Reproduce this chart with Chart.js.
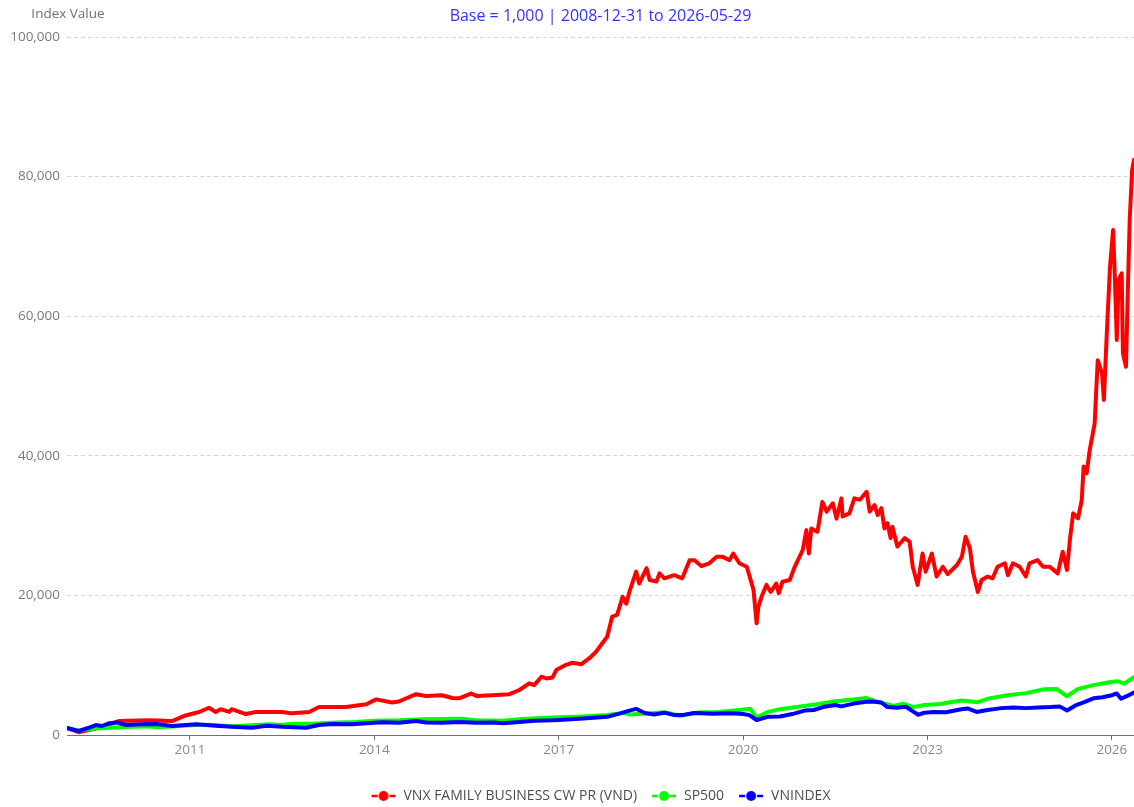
<!DOCTYPE html>
<html>
<head>
<meta charset="utf-8">
<script src="https://cdn.jsdelivr.net/npm/chart.js@4.4.1/dist/chart.umd.min.js"></script>
<style>
  html, body { margin: 0; padding: 0; background: #fff; }
</style>
</head>
<body>
<canvas id="chart" width="1134" height="807"></canvas>
<script>
const titleText = "Base = 1,000 | 2008-12-31 to 2026-05-29";
const yAxisName = "Index Value";
const xTickYears = [2011, 2014, 2017, 2020, 2023, 2026];

// VNX FAMILY BUSINESS CW PR (VND) - dates as decimal years
const vnxDates = [
  2009.00, 2009.19, 2009.44, 2009.68, 2009.84,
  2010.33, 2010.71, 2010.93,
  2011.15, 2011.31, 2011.42, 2011.50, 2011.64, 2011.68, 2011.91,
  2012.07, 2012.50, 2012.66, 2012.94,
  2013.10, 2013.54, 2013.87,
  2014.03, 2014.29, 2014.40, 2014.68, 2014.84,
  2015.10, 2015.27, 2015.38, 2015.58, 2015.66, 2015.92,
  2016.20, 2016.36, 2016.52, 2016.60, 2016.72, 2016.80, 2016.90, 2016.96,
  2017.12, 2017.22, 2017.37, 2017.50, 2017.61, 2017.71, 2017.79, 2017.87, 2017.95,
  2018.04, 2018.10, 2018.15, 2018.26, 2018.31, 2018.43, 2018.48, 2018.59, 2018.64, 2018.72, 2018.88,
  2019.01, 2019.13, 2019.21, 2019.32, 2019.45, 2019.57, 2019.66, 2019.78, 2019.84, 2019.94,
  2020.06, 2020.10, 2020.17, 2020.22, 2020.25, 2020.30, 2020.38, 2020.45, 2020.54, 2020.58, 2020.64, 2020.76, 2020.84, 2020.92, 2020.97,
  2021.03, 2021.07, 2021.11, 2021.21, 2021.29, 2021.36, 2021.46, 2021.52, 2021.60, 2021.62, 2021.73, 2021.81, 2021.90,
  2022.01, 2022.06, 2022.14, 2022.19, 2022.25, 2022.30, 2022.35, 2022.40, 2022.43, 2022.51, 2022.63, 2022.71, 2022.76, 2022.84, 2022.92, 2022.97,
  2023.07, 2023.15, 2023.25, 2023.33, 2023.48, 2023.56, 2023.62, 2023.69, 2023.74, 2023.82, 2023.88, 2023.98,
  2024.06, 2024.14, 2024.26, 2024.31, 2024.39, 2024.50, 2024.60, 2024.66, 2024.79, 2024.88, 2024.99,
  2025.12, 2025.20, 2025.27, 2025.32, 2025.37, 2025.45, 2025.51, 2025.54, 2025.59, 2025.64, 2025.69, 2025.72, 2025.77, 2025.84, 2025.87, 2025.92, 2025.97,
  2026.02, 2026.05, 2026.08, 2026.11, 2026.16, 2026.18, 2026.23, 2026.26, 2026.29, 2026.33, 2026.36
];
const vnxValues = [
  1000, 400, 900, 1500, 2000,
  2100, 2000, 2800,
  3300, 3900, 3300, 3700, 3300, 3700, 3000,
  3300, 3300, 3100, 3300,
  4000, 4000, 4400,
  5100, 4650, 4800, 5850, 5600,
  5700, 5300, 5250, 5950, 5600, 5700,
  5850, 6450, 7400, 7150, 8350, 8100, 8250, 9300,
  10050, 10350, 10150, 11000, 11950, 13150, 14100, 16950, 17200,
  19800, 18800, 20500, 23400, 21700, 23900, 22200, 22000, 23150, 22450, 22900,
  22450, 25050, 25050, 24200, 24600, 25550, 25550, 25050, 26000, 24600,
  24100, 22900, 20750, 16000, 18400, 19800, 21500, 20500, 21700, 20300, 21950, 22200, 24100, 25550, 26500,
  29350, 26000, 29600, 29100, 33400, 32000, 33200, 31000, 33900, 31300, 31750, 33900, 33700,
  34850, 32000, 32950, 31500, 32500, 29600, 30350, 28200, 29850, 27000, 28200, 27700, 24100, 21500, 26000, 23400,
  26000, 22700, 24100, 23050, 24350, 25550, 28400, 26750, 23400, 20500, 22200, 22700,
  22450, 24100, 24600, 22900, 24600, 24100, 22700, 24600, 25050, 24100, 24100,
  23150, 26250, 23650, 28200, 31750, 31050, 33650, 38450, 37500, 40850, 43200, 44650, 53700, 51800, 48000, 58000, 67100,
  72350, 65200, 56600, 65200, 66150, 54700, 52750, 63750, 73800, 80950, 82400
];

// SP500
const spDates = [
  2009.00, 2009.19, 2009.36, 2009.68, 2009.96,
  2010.33, 2010.45, 2010.71,
  2011.00, 2011.30, 2011.68,
  2012.00, 2012.30, 2012.45, 2012.70,
  2013.00, 2013.40, 2013.70,
  2014.00, 2014.40, 2014.80,
  2015.40, 2015.66,
  2016.10, 2016.40, 2016.90,
  2017.30, 2017.79,
  2018.05, 2018.15, 2018.50, 2018.72, 2018.97,
  2019.30, 2019.60, 2019.90,
  2020.12, 2020.22, 2020.40, 2020.60, 2020.90,
  2021.20, 2021.50, 2021.80,
  2022.00, 2022.15, 2022.45, 2022.60, 2022.78, 2022.95,
  2023.20, 2023.55, 2023.82,
  2024.00, 2024.30, 2024.60, 2024.90,
  2025.10, 2025.27, 2025.45, 2025.70, 2025.95,
  2026.10, 2026.20, 2026.36
];
const spValues = [
  1000, 620, 850, 1050, 1150,
  1250, 1100, 1200,
  1380, 1480, 1250,
  1400, 1550, 1450, 1600,
  1600, 1800, 1850,
  2050, 2100, 2250,
  2330, 2100,
  2050, 2300, 2500,
  2620, 2850,
  3150, 2950, 3100, 3250, 2750,
  3250, 3300, 3550,
  3750, 2500, 3300, 3700, 4050,
  4400, 4850, 5100,
  5300, 4850, 4150, 4500, 4000, 4300,
  4450, 4950, 4700,
  5250, 5700, 6000, 6550,
  6600, 5550, 6600, 7150, 7550,
  7700, 7350, 8300
];

// VNINDEX
const vnDates = [
  2009.00, 2009.19, 2009.36, 2009.47, 2009.57, 2009.68, 2009.81, 2009.96,
  2010.22, 2010.45, 2010.71,
  2011.10, 2011.42, 2011.68,
  2012.01, 2012.24, 2012.50, 2012.89,
  2013.10, 2013.31, 2013.64, 2013.87,
  2014.13, 2014.40, 2014.68, 2014.84,
  2015.10, 2015.38, 2015.66, 2015.92,
  2016.10, 2016.36, 2016.60, 2016.90,
  2017.00, 2017.40, 2017.79,
  2018.00, 2018.15, 2018.26, 2018.40, 2018.55, 2018.72, 2018.88,
  2019.01, 2019.20, 2019.50, 2019.80,
  2020.00, 2020.10, 2020.22, 2020.40, 2020.60, 2020.80,
  2021.00, 2021.15, 2021.30, 2021.50, 2021.60, 2021.80,
  2022.00, 2022.10, 2022.25, 2022.35, 2022.50, 2022.65, 2022.75, 2022.85, 2022.95,
  2023.10, 2023.30, 2023.55, 2023.65, 2023.80, 2023.95,
  2024.20, 2024.40, 2024.60, 2024.80,
  2025.00, 2025.15, 2025.27, 2025.40, 2025.55, 2025.70, 2025.85,
  2026.00, 2026.08, 2026.15, 2026.25, 2026.36
];
const vnValues = [
  1000, 570, 1050, 1430, 1290, 1670, 1800, 1430,
  1530, 1580, 1290,
  1530, 1340, 1190,
  1050, 1340, 1190, 1050,
  1430, 1580, 1530, 1670,
  1810, 1770, 2000, 1800,
  1750, 1850, 1750, 1800,
  1680, 1850, 2050, 2100,
  2150, 2350, 2600,
  3100, 3500, 3750, 3150, 2950, 3200, 2850,
  2850, 3150, 3050, 3100,
  3000, 2850, 2150, 2600, 2650, 3000,
  3500, 3580, 4000, 4300, 4100, 4500,
  4750, 4800, 4650, 4000, 3900, 4050, 3450, 2900, 3200,
  3300, 3250, 3700, 3800, 3300, 3550,
  3850, 3950, 3850, 3950,
  4000, 4100, 3500, 4200, 4700, 5250, 5400,
  5700, 5950, 5200, 5600, 6100
];

function toPoints(dates, values) {
  return dates.map((d, i) => ({ x: d, y: values[i] }));
}

// legend icon: line - circle - line
function makeIcon(color) {
  const c = document.createElement('canvas');
  c.width = 26;
  c.height = 12;
  const g = c.getContext('2d');
  g.strokeStyle = color;
  g.lineWidth = 2.5;
  g.beginPath();
  g.moveTo(1, 6); g.lineTo(7, 6);
  g.moveTo(19, 6); g.lineTo(25, 6);
  g.stroke();
  g.fillStyle = color;
  g.beginPath();
  g.arc(13, 6, 5, 0, Math.PI * 2);
  g.fill();
  return c;
}

const axisNamePlugin = {
  id: 'axisName',
  afterDraw(chart) {
    const { ctx, chartArea } = chart;
    ctx.save();
    ctx.font = '13.5px "Open Sans"';
    ctx.fillStyle = '#6e7079';
    ctx.textAlign = 'center';
    ctx.textBaseline = 'middle';
    ctx.fillText(yAxisName, chartArea.left + 1, 14);
    ctx.restore();
  }
};

const lineStyle = (color) => ({
  borderColor: color,
  backgroundColor: color,
  borderWidth: 4,
  pointRadius: 0,
  pointHoverRadius: 0,
  pointStyle: makeIcon(color),
  tension: 0,
  borderJoinStyle: 'round',
  borderCapStyle: 'round',
  fill: false
});

const ctx = document.getElementById('chart').getContext('2d');

// first dataset is drawn on top, legend reversed to keep the original order
const chart = new Chart(ctx, {
  type: 'line',
  data: {
    datasets: [
      { label: 'VNINDEX', data: toPoints(vnDates, vnValues), ...lineStyle('#0000ff') },
      { label: 'SP500', data: toPoints(spDates, spValues), ...lineStyle('#00ff00') },
      { label: 'VNX FAMILY BUSINESS CW PR (VND)', data: toPoints(vnxDates, vnxValues), ...lineStyle('#ff0000') }
    ]
  },
  options: {
    responsive: false,
    animation: false,
    layout: { padding: { left: 0, right: 0, top: 0, bottom: -6 } },
    plugins: {
      title: {
        display: true,
        text: titleText,
        fullSize: false,
        color: '#3333ff',
        font: { family: 'Open Sans', size: 16, weight: 'normal', lineHeight: 1.2 },
        padding: { top: 6.5, bottom: 11.3 }
      },
      legend: {
        position: 'bottom',
        fullSize: false,
        reverse: true,
        labels: {
          usePointStyle: true,
          pointStyleWidth: 26,
          color: '#4d4d4d',
          font: { family: 'Open Sans', size: 14 },
          padding: 14
        }
      },
      tooltip: { enabled: false }
    },
    scales: {
      x: {
        type: 'linear',
        min: 2009.0,
        max: 2026.36,
        afterBuildTicks: (scale) => {
          scale.ticks = xTickYears.map(v => ({ value: v }));
        },
        afterFit: (scale) => { scale.height = 40; },
        grid: {
          display: true,
          drawOnChartArea: false,
          drawTicks: true,
          tickLength: 5,
          color: '#6e7079'
        },
        border: { display: true, color: '#6e7079', width: 1 },
        ticks: {
          color: '#8a8a8a',
          font: { family: 'Open Sans', size: 13.5 },
          padding: 2,
          maxRotation: 0,
          callback: (v) => String(v)
        }
      },
      y: {
        min: 0,
        max: 100000,
        afterFit: (scale) => { scale.width = 67; },
        grid: {
          color: '#d6d6d6',
          drawTicks: false,
          lineWidth: 1
        },
        border: { display: false, dash: [4, 3] },
        ticks: {
          stepSize: 20000,
          color: '#7a7a7a',
          padding: 7,
          font: { family: 'Open Sans', size: 13.5 },
          callback: (v) => v.toLocaleString('en-US')
        }
      }
    }
  },
  plugins: [axisNamePlugin]
});
</script>
</body>
</html>
